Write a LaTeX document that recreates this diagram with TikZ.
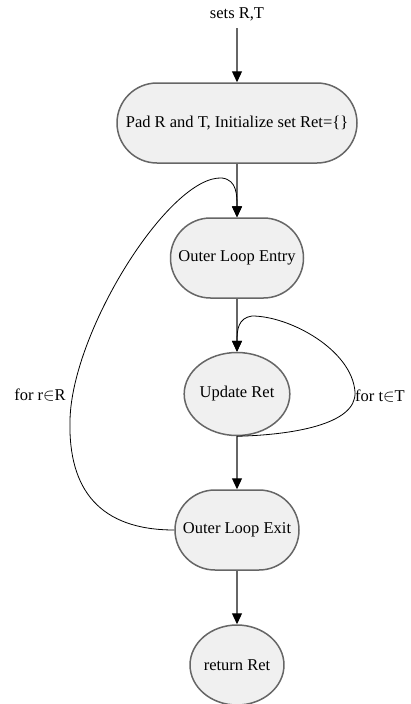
\documentclass[tikz,border=0pt]{standalone}
\usepackage{fontspec}
\setmainfont{Liberation Serif}
\usetikzlibrary{shapes.misc,shapes.geometric,arrows.meta}
\definecolor{nodefill}{HTML}{F0F0F0}
\definecolor{nodeline}{HTML}{666666}
\tikzset{
  box/.style={rounded rectangle, draw=nodeline, fill=nodefill, line width=1.5pt, inner sep=0pt, minimum height=80pt, font=\fontsize{16.5}{19}\selectfont},
  oval/.style={ellipse, draw=nodeline, fill=nodefill, line width=1.5pt, inner sep=0pt, font=\fontsize{16.5}{19}\selectfont},
  lbl/.style={font=\fontsize{16.5}{19}\selectfont, inner sep=0pt},
  flow/.style={draw=nodeline, line width=1.2pt, -{Triangle[length=11pt,width=10pt,fill=black,color=black]}},
  loopl/.style={draw=black, line width=0.8pt, -{Triangle[length=11pt,width=10pt,fill=black]}},
}
\begin{document}
\begin{tikzpicture}[x=1pt,y=-1pt]
\useasboundingbox (0,0) rectangle (410,704);
\node[lbl] (in) at (237,14) {sets R,T};
\coordinate (inend) at (237,28);
\node[box, minimum width=240pt] (pad) at (237,123) {Pad R and T, Initialize set Ret=\{\}};
\node[box, minimum width=133pt] (entry) at (237,258) {Outer Loop Entry};
\node[oval, minimum width=89pt, minimum height=83pt] (upd) at (237,394) {Update Ret};
\node[box, minimum width=124pt] (exit) at (237,530) {Outer Loop Exit};
\node[oval, minimum width=80pt, minimum height=80pt] (ret) at (237,665) {return Ret};
\node[lbl] (lr) at (40,395) {for r$\in$R};
\node[lbl] (lt) at (380,396) {for t$\in$T};
\draw[flow] (inend) -- (pad.north);
\draw[flow] (pad.south) -- (entry.north);
\draw[flow] (entry.south) -- (upd.north);
\draw[flow] (upd.south) -- (exit.north);
\draw[flow] (exit.south) -- (ret.north);
\draw[loopl] (exit.west) .. controls (100,530) and (68,490) .. (70,420)
  .. controls (72,330) and (170,175) .. (222,178)
  .. controls (237,180) and (237,195) .. (entry.north);
\draw[loopl] (upd.south) .. controls (290,435) and (357,425) .. (355,392)
  .. controls (352,350) and (290,316) .. (252,316)
  .. controls (238,318) and (237,330) .. (upd.north);
\end{tikzpicture}
\end{document}
